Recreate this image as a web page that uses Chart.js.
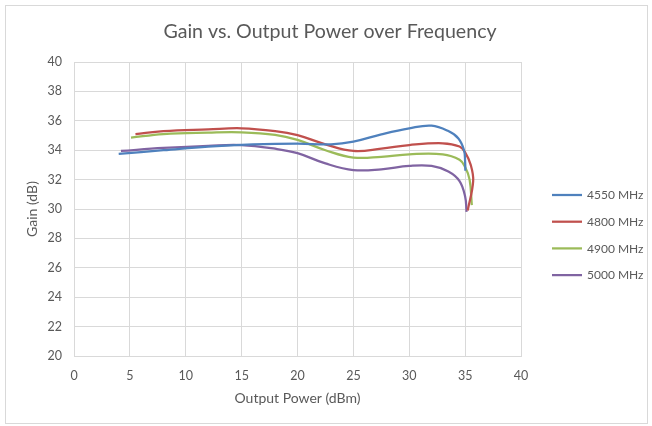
<!DOCTYPE html>
<html>
<head>
<meta charset="utf-8">
<script src="https://cdn.jsdelivr.net/npm/chart.js@4/dist/chart.umd.min.js"></script>
<style>
  html, body { margin: 0; padding: 0; background: #ffffff; }
  #wrap { width: 652px; height: 426px; position: relative; }
</style>
</head>
<body>
<div id="wrap"><canvas id="c" width="652" height="426"></canvas></div>
<script>
// ---- Data ----
const chartTitle = "Gain vs. Output Power over Frequency";
const xAxisTitle = "Output Power (dBm)";
const yAxisTitle = "Gain (dB)";
const seriesNames = ["4550 MHz", "4800 MHz", "4900 MHz", "5000 MHz"];

const x4550 = [4, 8, 12, 16, 20, 23, 25, 27.5, 30, 32, 33.5, 34.4, 34.9, 35.0, 35.02];
const y4550 = [33.75, 34.0, 34.25, 34.4, 34.45, 34.4, 34.58, 35.08, 35.49, 35.67, 35.3, 34.8, 34.0, 33.2, 32.6];

const x4800 = [5.5, 8, 12, 15, 18, 20, 22.5, 25, 27.5, 30, 33, 34.5, 35.0, 35.5, 35.72, 35.23];
const y4800 = [35.1, 35.3, 35.42, 35.49, 35.3, 35.02, 34.4, 33.95, 34.1, 34.35, 34.47, 34.25, 33.85, 33.0, 31.9, 29.9];

const x4900 = [5.1, 8, 12, 15, 18, 20, 22.5, 25, 27.5, 30, 33, 34.5, 35.0, 35.4, 35.6];
const y4900 = [34.85, 35.1, 35.2, 35.22, 35.05, 34.7, 34.0, 33.5, 33.55, 33.72, 33.72, 33.35, 32.85, 32.0, 30.27];

const x5000 = [4.2, 8, 12, 15, 18, 20, 22.5, 25, 27.5, 30, 32, 33.5, 34.5, 35.0, 35.13];
const y5000 = [33.95, 34.15, 34.3, 34.35, 34.1, 33.8, 33.1, 32.65, 32.7, 32.93, 32.93, 32.55, 31.9, 30.85, 29.8];

const xTicks = { min: 0, max: 40, step: 5 };
const yTicks = { min: 20, max: 40, step: 2 };

// ---- Styling ----
const colors = ["#4F81BD", "#C0504D", "#9BBB59", "#8064A2"];
const textColor = "#595959";
const gridColor = "#d9d9d9";
const FONT = "Lato, 'Open Sans', 'Liberation Sans', sans-serif";

function toPoints(xs, ys) { return xs.map((x, i) => ({ x: x, y: ys[i] })); }
const allX = [x4550, x4800, x4900, x5000];
const allY = [y4550, y4800, y4900, y5000];

const datasets = seriesNames.map((name, i) => ({
  label: name,
  data: toPoints(allX[i], allY[i]),
  borderColor: colors[i],
  backgroundColor: colors[i],
  borderWidth: 2.25,
  pointRadius: 0,
  pointHoverRadius: 0,
  showLine: true,
  fill: false,
  tension: 0.4
}));

const decorPlugin = {
  id: 'decor',
  beforeDraw(chart) {
    const ctx = chart.ctx;
    ctx.save();
    ctx.fillStyle = '#ffffff';
    ctx.fillRect(0, 0, chart.width, chart.height);
    ctx.strokeStyle = gridColor;
    ctx.lineWidth = 1;
    ctx.strokeRect(5.5, 5.5, 642, 418);
    ctx.restore();
  },
  afterDraw(chart) {
    const ctx = chart.ctx;
    ctx.save();
    // title
    ctx.fillStyle = textColor;
    ctx.font = "19.6px " + FONT;
    ctx.textAlign = 'center';
    ctx.textBaseline = 'middle';
    ctx.fillText(chartTitle, 330, 32);
    // legend
    ctx.font = "12px " + FONT;
    ctx.textAlign = 'left';
    chart.data.datasets.forEach((ds, i) => {
      const y = 195 + i * 26.7;
      ctx.strokeStyle = ds.borderColor;
      ctx.lineWidth = 2.25;
      ctx.beginPath();
      ctx.moveTo(552, y);
      ctx.lineTo(582, y);
      ctx.stroke();
      ctx.fillStyle = textColor;
      ctx.fillText(ds.label, 587, y + 0.5);
    });
    ctx.restore();
  }
};

new Chart(document.getElementById('c'), {
  type: 'scatter',
  data: { datasets: datasets },
  plugins: [decorPlugin],
  options: {
    responsive: false,
    animation: false,
    devicePixelRatio: 1,
    layout: { padding: { left: 5, top: 62, right: 131, bottom: 5 } },
    plugins: {
      legend: { display: false },
      title: { display: false },
      tooltip: { enabled: false }
    },
    scales: {
      x: {
        type: 'linear',
        min: xTicks.min, max: xTicks.max,
        afterFit(s) { s.height = 65; },
        ticks: { stepSize: xTicks.step, color: textColor, padding: 12, font: { family: FONT, size: 12.5 } },
        grid: { color: gridColor, drawTicks: false, lineWidth: 1 },
        border: { color: gridColor },
        title: { display: true, text: xAxisTitle, color: textColor, font: { family: FONT, size: 14 }, padding: { top: 0, bottom: 14 } }
      },
      y: {
        type: 'linear',
        min: yTicks.min, max: yTicks.max,
        afterFit(s) { s.width = 69; },
        ticks: { stepSize: yTicks.step, color: textColor, padding: 12, font: { family: FONT, size: 12.5 } },
        grid: { color: gridColor, drawTicks: false, lineWidth: 1 },
        border: { color: gridColor },
        title: { display: true, text: yAxisTitle, color: textColor, font: { family: FONT, size: 14 }, padding: { top: 19, bottom: 0 } }
      }
    }
  }
});
</script>
</body>
</html>
